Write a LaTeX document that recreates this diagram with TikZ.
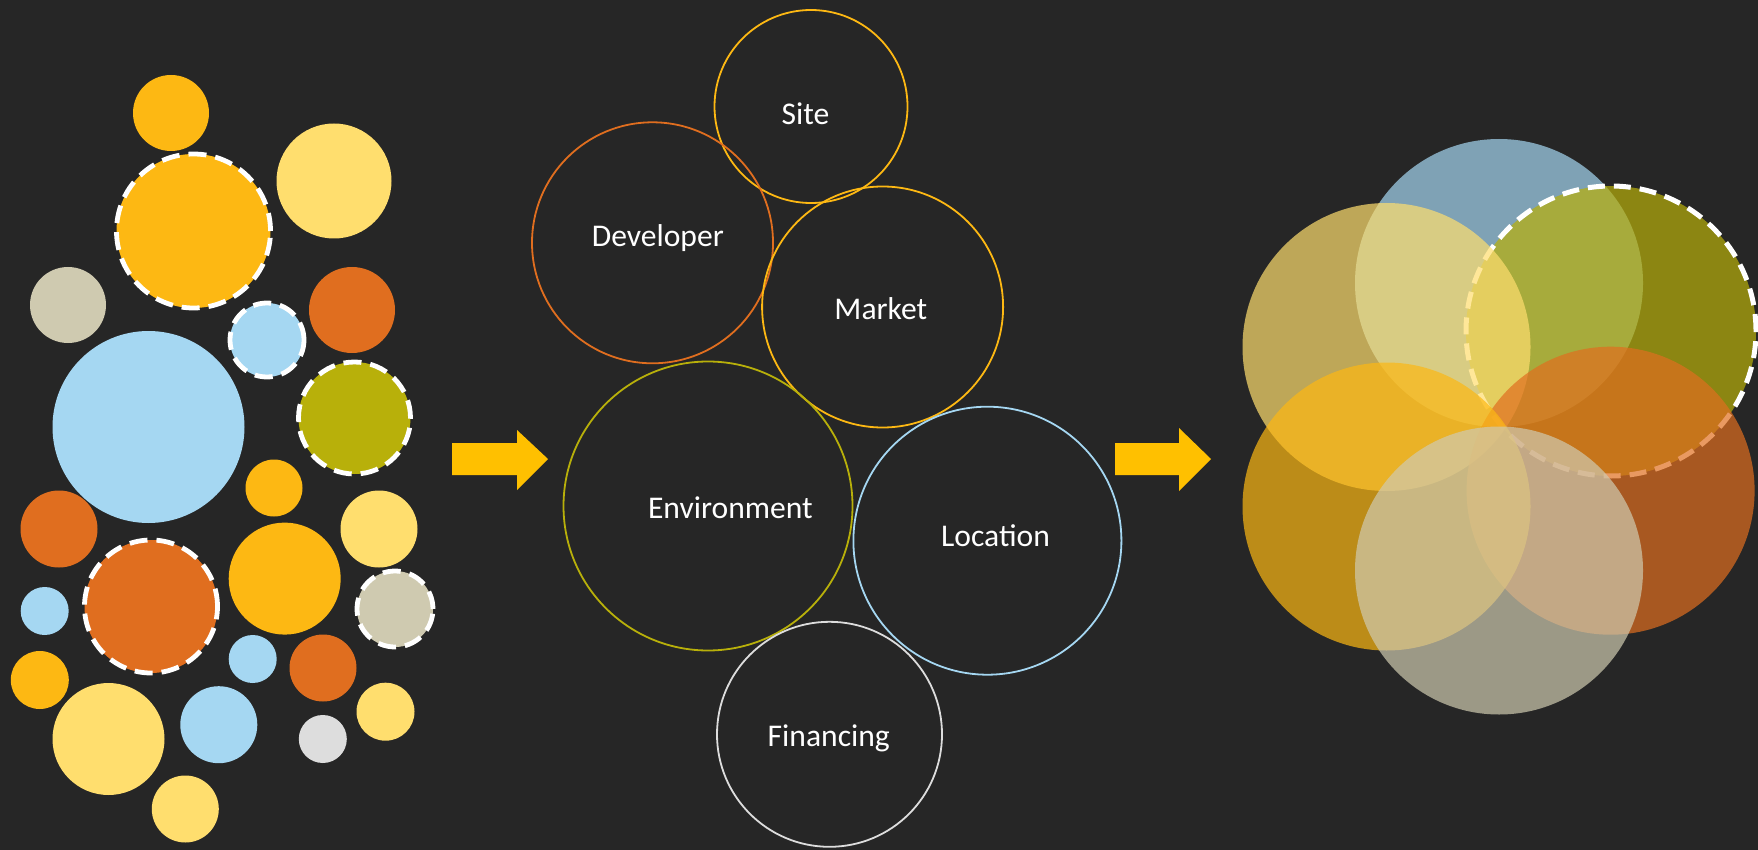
\documentclass[tikz,border=0pt]{standalone}
\usepackage{fontspec}
\setmainfont{Carlito}
\definecolor{canvas}{HTML}{262626}
\definecolor{amber}{HTML}{FDB813}
\definecolor{butter}{HTML}{FFDE6E}
\definecolor{rust}{HTML}{E06E1F}
\definecolor{sky}{HTML}{A5D7F2}
\definecolor{sand}{HTML}{CFCAB0}
\definecolor{moss}{HTML}{B8B00A}
\definecolor{mist}{HTML}{DDDDDD}
\definecolor{pointer}{HTML}{FFC000}

\begin{document}
\begin{tikzpicture}[
		x=1pt, y=-1pt,
		bubble/.style={circle, inner sep=0pt, minimum size=#1},
		ring/.style={draw=white, line width=4.8pt, dash pattern=on 18pt off 9pt},
		topic/.style={circle, inner sep=0pt, line width=1.8pt, minimum size=#1},
		tag/.style={anchor=base, text=white, font=\fontsize{31.6}{38}\selectfont},
		blend/.style={circle, inner sep=0pt, minimum size=288pt, fill=#1, fill opacity=0.7},
		pointerstyle/.style={fill=pointer}
	]
	\fill[canvas] (0,0) rectangle (1758,850);
	\useasboundingbox (0,0) rectangle (1758,850);

	% loose bubbles
	\node[bubble=76pt, fill=amber] (s1) at (171,113) {};
	\node[bubble=154pt, fill=amber, ring] (s2) at (193.5,231) {};
	\node[bubble=115pt, fill=butter] (s3) at (334,181) {};
	\node[bubble=76pt, fill=sand] (s4) at (68,305) {};
	\node[bubble=86pt, fill=rust] (s5) at (352,310) {};
	\node[bubble=74pt, fill=sky, ring] (s6) at (267,340) {};
	\node[bubble=192pt, fill=sky] (s7) at (148.5,427) {};
	\node[bubble=112pt, fill=moss, ring] (s8) at (354.5,418) {};
	\node[bubble=57pt, fill=amber] (s9) at (274,488) {};
	\node[bubble=77pt, fill=rust] (s10) at (59,529) {};
	\node[bubble=77pt, fill=butter] (s11) at (379,529) {};
	\node[bubble=133pt, fill=rust, ring] (s12) at (151,606.5) {};
	\node[bubble=112pt, fill=amber] (s13) at (284.7,578.6) {};
	\node[bubble=76pt, fill=sand, ring] (s14) at (395,609) {};
	\node[bubble=48pt, fill=sky] (s15) at (44.7,611) {};
	\node[bubble=48pt, fill=sky] (s16) at (252.7,659) {};
	\node[bubble=67pt, fill=rust] (s17) at (323,668) {};
	\node[bubble=58pt, fill=amber] (s18) at (39.8,680) {};
	\node[bubble=112pt, fill=butter] (s19) at (108.5,739) {};
	\node[bubble=77pt, fill=sky] (s20) at (218.8,724.7) {};
	\node[bubble=58pt, fill=butter] (s21) at (385.5,711.7) {};
	\node[bubble=48pt, fill=mist] (s22) at (322.8,739) {};
	\node[bubble=67pt, fill=butter] (s23) at (185.3,809) {};

	% block arrows
	\fill[pointerstyle] (452,443) -- (517,443) -- (517,430) -- (548,459)
		-- (517,490) -- (517,475) -- (452,475) -- cycle;
	\fill[pointerstyle] (1115,443) -- (1179,443) -- (1179,428) -- (1211,459)
		-- (1179,491) -- (1179,475) -- (1115,475) -- cycle;

	% outlined factors
	\node[topic=193pt, draw=amber] (site) at (811,106.5) {};
	\node[topic=241pt, draw=rust] (dev) at (652.5,242.8) {};
	\node[topic=241pt, draw=amber] (market) at (882.6,307) {};
	\node[topic=289pt, draw=moss] (env) at (708,506) {};
	\node[topic=268pt, draw=sky] (loc) at (987.4,540.7) {};
	\node[topic=225pt, draw=mist] (fin) at (829.5,734.3) {};
	\node[tag] (siteTag) at (805.5,124.7) {Site};
	\node[tag] (devTag) at (657.8,246.6) {Developer};
	\node[tag] (marketTag) at (880.8,319.8) {Market};
	\node[tag] (envTag) at (730.4,518.7) {Environment};
	\node[tag] (locTag) at (995.5,546.3) {Location};
	\node[tag] (finTag) at (828.8,746.3) {Financing};

	% merged factors
	\node[blend=sky] (m1) at (1499,283) {};
	\node[blend=moss, minimum size=290pt, draw=white, line width=5pt,
		dash pattern=on 17pt off 9pt] (m2) at (1611,331) {};
	\node[blend=butter] (m3) at (1386.5,347) {};
	\node[blend=rust] (m4) at (1610.6,490.7) {};
	\node[blend=amber] (m5) at (1386.5,506.5) {};
	\node[blend=sand] (m6) at (1499,570.5) {};
\end{tikzpicture}
\end{document}
